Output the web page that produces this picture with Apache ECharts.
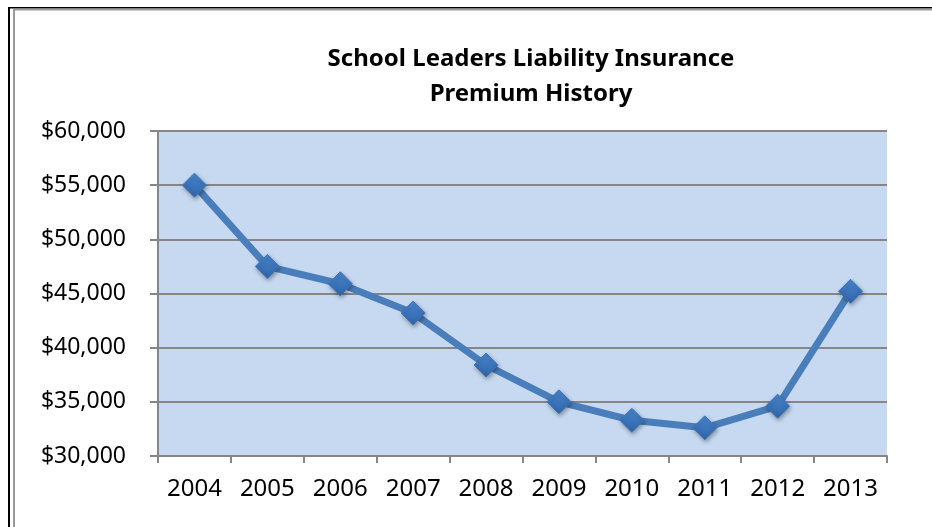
<!DOCTYPE html>
<html>
<head>
<meta charset="utf-8">
<script src="https://cdn.jsdelivr.net/npm/echarts@6/dist/echarts.min.js"></script>
<style>html,body{margin:0;padding:0;background:#fff;}#c{width:932px;height:527px;}</style>
</head>
<body>
<div id="c"></div>
<script>
const years = ['2004','2005','2006','2007','2008','2009','2010','2011','2012','2013'];
const premiums = [55000, 47500, 45900, 43200, 38400, 35000, 33300, 32600, 34600, 45200];
const yTicks = { min: 30000, max: 60000, interval: 5000 };
const titleLines = ['School Leaders Liability Insurance', 'Premium History'];

const chart = echarts.init(document.getElementById('c'));
chart.setOption({
  animation: false,
  backgroundColor: '#ffffff',
  title: {
    text: titleLines.join('\n'),
    left: 526, top: 37, textAlign: 'center',
    textStyle: { fontFamily: 'Noto Sans', fontWeight: 'bold', fontSize: 24, lineHeight: 35, color: '#000' }
  },
  grid: { left: 158, right: 45, top: 131, bottom: 71, show: true, backgroundColor: '#C6D9F0', borderWidth: 0 },
  xAxis: {
    type: 'category', data: years, boundaryGap: true,
    axisLine: { lineStyle: { color: '#868686', width: 2 } },
    axisTick: { show: true, length: 7, lineStyle: { color: '#868686', width: 2 } },
    axisLabel: { color: '#000', fontFamily: 'Noto Sans', fontSize: 24, margin: 21 }
  },
  yAxis: {
    type: 'value', min: yTicks.min, max: yTicks.max, interval: yTicks.interval,
    axisLine: { show: true, lineStyle: { color: '#868686', width: 2 } },
    axisTick: { show: true, length: 8, lineStyle: { color: '#868686', width: 2 } },
    splitLine: { show: true, lineStyle: { color: '#868686', width: 2 } },
    axisLabel: { color: '#000', fontFamily: 'Noto Sans', fontSize: 23, margin: 32,
      formatter: v => '$' + v.toLocaleString('en-US') }
  },
  series: [{
    type: 'line', data: premiums,
    lineStyle: { color: '#4A7EBB', width: 7 },
    symbol: 'diamond', symbolSize: 24,
    itemStyle: {
      color: new echarts.graphic.LinearGradient(0, 0, 0, 1, [
        { offset: 0, color: '#4A86D0' }, { offset: 1, color: '#2F64A8' }
      ]),
      borderColor: '#3F75BA', borderWidth: 1,
      shadowColor: 'rgba(0,0,0,0.35)', shadowBlur: 4, shadowOffsetX: 1, shadowOffsetY: 2
    }
  }],
  graphic: [
    { type: 'rect', shape: { x: 8, y: 7, width: 2, height: 520 }, style: { fill: '#000' } },
    { type: 'rect', shape: { x: 8, y: 7, width: 924, height: 1.5 }, style: { fill: '#000' } },
    { type: 'rect', shape: { x: 13, y: 9, width: 2, height: 518 }, style: { fill: '#999' } },
    { type: 'rect', shape: { x: 13, y: 9, width: 919, height: 1.5 }, style: { fill: '#999' } }
  ]
});
</script>
</body>
</html>
